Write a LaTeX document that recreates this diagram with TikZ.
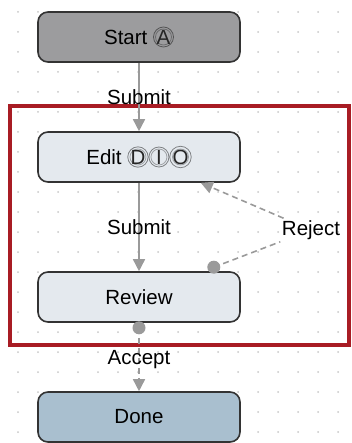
\documentclass[tikz,border=0pt]{standalone}
\usepackage{fontspec}
\setmainfont{Liberation Sans}
\usetikzlibrary{arrows.meta}

\definecolor{framered}{HTML}{A81C24}
\definecolor{edgegray}{HTML}{9A9A9A}
\definecolor{startfill}{HTML}{9C9C9E}
\definecolor{taskfill}{HTML}{E4E9EE}
\definecolor{donefill}{HTML}{A9BFCF}

\newcommand{\ringlet}[1]{\tikz[baseline=(r.base)]\node[circle,inner sep=0pt,minimum size=20pt,
    draw=black,draw opacity=0.45,line width=0.8pt,text=black!85,
    path picture={\draw[black,draw opacity=0.3,line width=0.8pt] (path picture bounding box.center) circle (8pt);}] (r) {#1};}

\begin{document}
\begin{tikzpicture}[x=1pt,y=-1pt,
    font=\fontsize{20.5}{24}\selectfont,
    box/.style={draw=black!80,line width=1.6pt,rounded corners=10pt,minimum width=202pt,minimum height=50pt},
    flow/.style={draw=edgegray,line width=1.6pt,-{Triangle[length=12pt,width=12pt]}},
    dashflow/.style={flow,dash pattern=on 6pt off 4pt},
    lbl/.style={inner sep=2pt},
    knob/.style={fill=edgegray}
]
\useasboundingbox (0,0) rectangle (352,443);

% Grid
\foreach \x in {18,38,...,338}
    \foreach \y in {12,32,...,432}
        \fill[black!22] (\x,\y) circle (1pt);

% Group frame
\draw[framered,line width=4pt] (10,106) rectangle (349,345);

% Nodes
\node[box,fill=startfill] (Start) at (139,37) {Start \ringlet{A}};
\node[box,fill=taskfill] (Edit) at (139,157) {Edit \ringlet{D}\ringlet{I}\ringlet{O}};
\node[box,fill=taskfill] (Review) at (139,297) {Review};
\node[box,fill=donefill] (Done) at (139,417) {Done};

% Edges
\draw[flow] (Start) -- node[lbl] {Submit} (Edit);
\draw[flow] (Edit) -- node[lbl] {Submit} (Review);

% Reject back to Edit
\coordinate (rejfrom) at ([xshift=-27pt,yshift=4pt]Review.north east);
\coordinate (rejto) at ([xshift=-40pt]Edit.south east);
\node[lbl] (rejlbl) at (311,230) {Reject};
\draw[dashflow,-] (rejfrom) -- (rejlbl);
\draw[dashflow] (rejlbl) -- (rejto);
\fill[knob] (rejfrom) circle (6.5pt);

% Accept
\coordinate (accfrom) at ([yshift=-5pt]Review.south);
\draw[dashflow] (accfrom) -- node[lbl] {Accept} (Done);
\fill[knob] (accfrom) circle (6.5pt);

\end{tikzpicture}
\end{document}
